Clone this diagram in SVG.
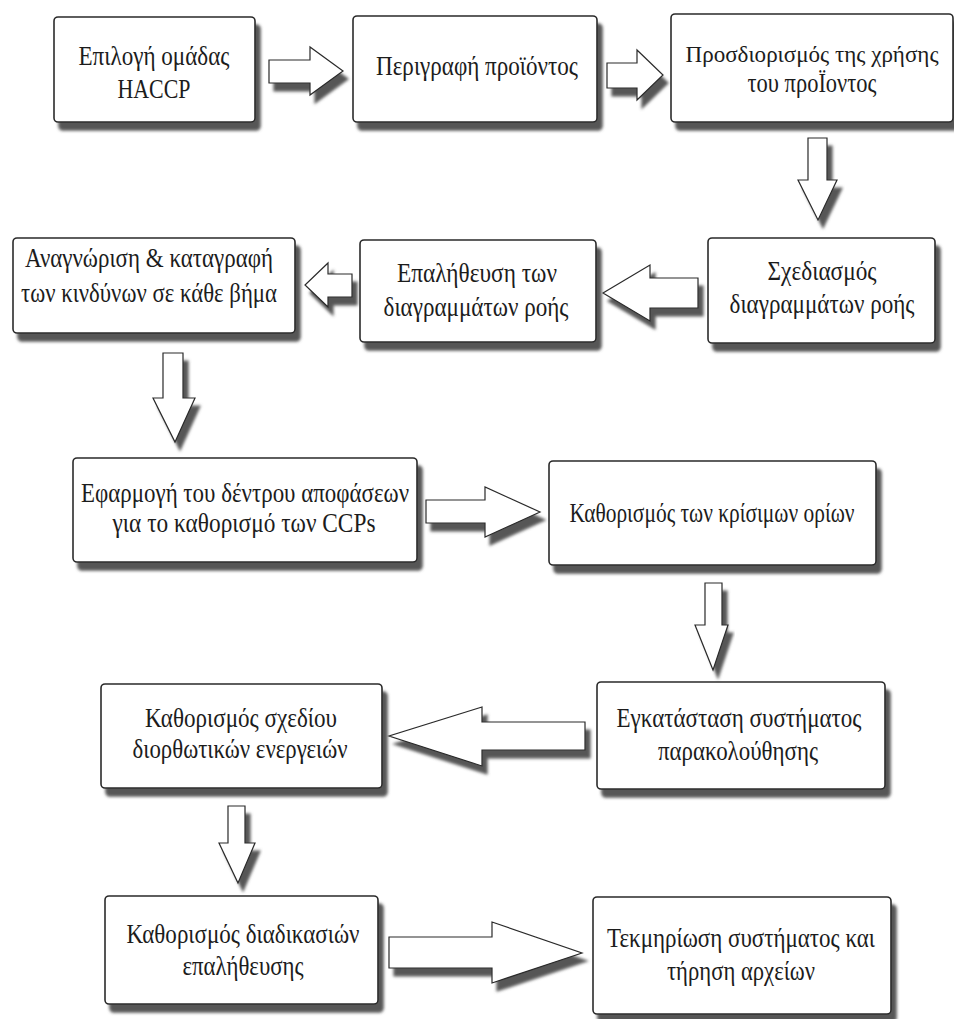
<svg xmlns="http://www.w3.org/2000/svg" width="954" height="1019" viewBox="0 0 954 1019">
  <defs>
    <!-- soft grey drop shadow shared by boxes and block arrows -->
    <filter id="shadow" x="-10%" y="-15%" width="130%" height="150%">
      <feGaussianBlur in="SourceAlpha" stdDeviation="1.4" result="blur"/>
      <feOffset in="blur" dx="5" dy="8" result="off"/>
      <feFlood flood-color="#575757"/>
      <feComposite in2="off" operator="in" result="shade"/>
      <feMerge>
        <feMergeNode in="shade"/>
        <feMergeNode in="SourceGraphic"/>
      </feMerge>
    </filter>
  </defs>
  <style>
    .box rect { fill:#ffffff; stroke:#2a2a2a; stroke-width:1.6; filter:url(#shadow); }
    .box text { font-family:'Times New Roman', 'Liberation Serif', 'DejaVu Serif', serif; font-size:27px; fill:#1c1c1c; text-anchor:middle; }
    .box text.fit { font-size:24px; }
    .arrow { fill:#ffffff; stroke:#2a2a2a; stroke-width:1.2; stroke-linejoin:miter; filter:url(#shadow); }
  </style>
  <rect width="954" height="1019" fill="#ffffff"/>

  <!-- block arrows between steps -->
  <g id="connectors">
    <polygon class="arrow" points="269,60 310,60 310,47 343,71 310,95 310,83 269,83"/>
    <polygon class="arrow" points="607,63 637,63 637,50 663,75 637,100 637,88 607,88"/>
    <polygon class="arrow" points="808,138 827,138 827,180 837,180 818,220 798,180 808,180"/>
    <polygon class="arrow" points="698,278 650,278 650,265 603,293 650,321 650,308 698,308"/>
    <polygon class="arrow" points="352,274 328,274 328,263 305,285 328,307 328,297 352,297"/>
    <polygon class="arrow" points="163,353 183,353 183,398 195,398 175,442 153,398 163,398"/>
    <polygon class="arrow" points="426,500 485,500 485,487 540,512 485,537 485,523 426,523"/>
    <polygon class="arrow" points="705,583 722,583 722,625 728,625 713,670 695,625 705,625"/>
    <polygon class="arrow" points="585,722 482,722 482,707 389,736 482,766 482,750 585,750"/>
    <polygon class="arrow" points="228,806 245,806 245,843 255,843 238,883 219,843 228,843"/>
    <polygon class="arrow" points="389,937 492,937 492,922 582,953 492,983 492,968 389,968"/>
  </g>

  <g id="step1" class="box">
    <rect x="54" y="17" width="201" height="105" rx="4"/>
    <text x="154" y="65" textLength="151" lengthAdjust="spacingAndGlyphs">Επιλογή ομάδας</text>
    <text x="154" y="98" textLength="73" lengthAdjust="spacingAndGlyphs">HACCP</text>
  </g>

  <g id="step2" class="box">
    <rect x="353" y="16" width="244" height="106" rx="4"/>
    <text x="477" y="75" textLength="202" lengthAdjust="spacingAndGlyphs">Περιγραφή προϊόντος</text>
  </g>

  <g id="step3" class="box">
    <rect x="671" y="14" width="282" height="108" rx="4"/>
    <text class="fit" x="812" y="62" textLength="253" lengthAdjust="spacingAndGlyphs">Προσδιορισμός της χρήσης</text>
    <text x="812" y="92" textLength="129" lengthAdjust="spacingAndGlyphs">του προΪοντος</text>
  </g>

  <g id="step4" class="box">
    <rect x="708" y="238" width="227" height="105" rx="4"/>
    <text x="822" y="280" textLength="109" lengthAdjust="spacingAndGlyphs">Σχεδιασμός</text>
    <text x="822" y="313" textLength="185" lengthAdjust="spacingAndGlyphs">διαγραμμάτων ροής</text>
  </g>

  <g id="step5" class="box">
    <rect x="360" y="240" width="236" height="102" rx="4"/>
    <text x="477" y="282" textLength="160" lengthAdjust="spacingAndGlyphs">Επαλήθευση των</text>
    <text x="476" y="316" textLength="185" lengthAdjust="spacingAndGlyphs">διαγραμμάτων ροής</text>
  </g>

  <g id="step6" class="box">
    <rect x="13" y="238" width="282" height="95" rx="4"/>
    <text x="149" y="267" textLength="248" lengthAdjust="spacingAndGlyphs">Αναγνώριση &amp; καταγραφή</text>
    <text x="149" y="302" textLength="256" lengthAdjust="spacingAndGlyphs">των κινδύνων σε κάθε βήμα</text>
  </g>

  <g id="step7" class="box">
    <rect x="73" y="458" width="344" height="104" rx="4"/>
    <text x="245" y="502" textLength="328" lengthAdjust="spacingAndGlyphs">Εφαρμογή του δέντρου αποφάσεων</text>
    <text x="244" y="532" textLength="263" lengthAdjust="spacingAndGlyphs">για το καθορισμό των CCPs</text>
  </g>

  <g id="step8" class="box">
    <rect x="549" y="461" width="327" height="104" rx="4"/>
    <text x="712" y="522" textLength="285" lengthAdjust="spacingAndGlyphs">Καθορισμός των κρίσιμων ορίων</text>
  </g>

  <g id="step9" class="box">
    <rect x="597" y="682" width="288" height="107" rx="4"/>
    <text x="739" y="727" textLength="245" lengthAdjust="spacingAndGlyphs">Εγκατάσταση συστήματος</text>
    <text x="738" y="760" textLength="160" lengthAdjust="spacingAndGlyphs">παρακολούθησης</text>
  </g>

  <g id="step10" class="box">
    <rect x="101" y="684" width="281" height="104" rx="4"/>
    <text x="241" y="727" textLength="192" lengthAdjust="spacingAndGlyphs">Καθορισμός σχεδίου</text>
    <text x="240" y="758" textLength="215" lengthAdjust="spacingAndGlyphs">διορθωτικών ενεργειών</text>
  </g>

  <g id="step11" class="box">
    <rect x="105" y="896" width="273" height="108" rx="4"/>
    <text x="243" y="943" textLength="233" lengthAdjust="spacingAndGlyphs">Καθορισμός διαδικασιών</text>
    <text x="243" y="975" textLength="121" lengthAdjust="spacingAndGlyphs">επαλήθευσης</text>
  </g>

  <g id="step12" class="box">
    <rect x="593" y="897" width="298" height="117" rx="4"/>
    <text x="741" y="947" textLength="268" lengthAdjust="spacingAndGlyphs">Τεκμηρίωση συστήματος και</text>
    <text x="741" y="980" textLength="148" lengthAdjust="spacingAndGlyphs">τήρηση αρχείων</text>
  </g>
</svg>
